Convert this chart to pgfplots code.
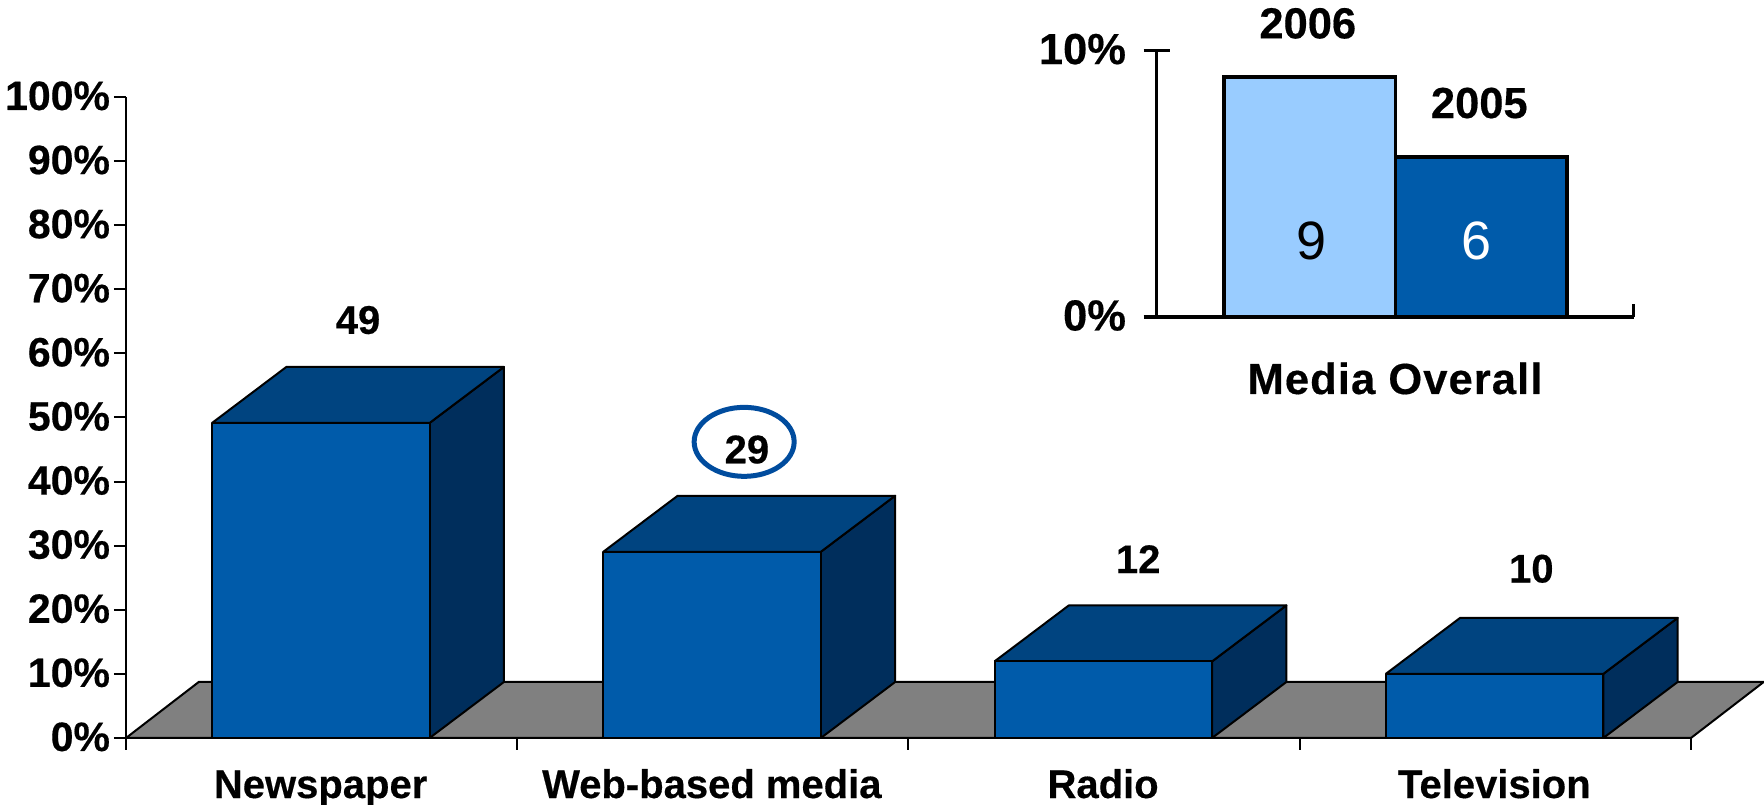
\documentclass[border=0pt]{standalone}
\usepackage{fontspec}
\setmainfont[BoldFeatures={FakeBold=0.4}]{Liberation Sans}
\usepackage{pgfplots}
\pgfplotsset{compat=1.18}
\definecolor{barfront}{HTML}{005BAA}
\definecolor{bartop}{HTML}{004480}
\definecolor{barside}{HTML}{002E5C}
\definecolor{barlight}{HTML}{99CCFF}
\definecolor{ringblue}{HTML}{004C9E}
\definecolor{floorgray}{HTML}{808080}
\newcommand{\lab}{\fontsize{40}{48}\selectfont\bfseries}
\newcommand{\labb}{\fontsize{41}{48}\selectfont\bfseries}
\newcommand{\labc}{\fontsize{43.5}{50}\selectfont\bfseries}
\pgfplotsset{
  front/.style={fill=barfront,draw=black,line width=2pt,line join=round,forget plot},
  topf/.style={fill=bartop,draw=black,line width=2pt,line join=round,forget plot},
  sidef/.style={fill=barside,draw=black,line width=2pt,line join=round,forget plot},
}
\begin{document}
\begin{tikzpicture}
\path[use as bounding box] (0pt,0pt) rectangle (1764pt,805pt);
% main chart
\begin{axis}[
    at={(126pt,67pt)}, anchor=south west,
    scale only axis,
    width=1565pt, height=641pt,
    xmin=0, xmax=4, ymin=0, ymax=100,
    clip=false,
    axis lines=left,
    axis line style={-,line width=2.5pt},
    tick align=outside,
    major tick length=12pt,
    tick style={black,line width=2pt},
    axis on top,
    xtick={0,1,2,3,4},
    x tick label as interval,
    xticklabels={Newspaper,Web-based media,Radio,Television},
    x tick label style={font=\lab,anchor=base,text height=29pt,xshift=-1pt},
    xticklabel shift=48pt,
    ytick={0,10,20,30,40,50,60,70,80,90,100},
    yticklabels={0\%,10\%,20\%,30\%,40\%,50\%,60\%,70\%,80\%,90\%,100\%},
    y tick label style={font=\labb,anchor=east,text height=29pt,text depth=0pt,yshift=1.5pt},
    yticklabel shift=0.5pt,
]
    % floor
    \addplot[fill=floorgray,draw=black,line width=2pt,forget plot]
        coordinates {(0,0) (0.186,8.74) (4.186,8.74) (4,0) (0,0)};

    % Newspaper
    \addplot[sidef] coordinates {(0.776,0) (0.966,8.74) (0.966,57.89) (0.776,49.15) (0.776,0)};
    \addplot[topf] coordinates {(0.22,49.15) (0.41,57.89) (0.966,57.89) (0.776,49.15) (0.22,49.15)};
    \addplot[front] coordinates {(0.22,0) (0.776,0) (0.776,49.15) (0.22,49.15) (0.22,0)};

    % Web-based media
    \addplot[sidef] coordinates {(1.776,0) (1.966,8.74) (1.966,37.79) (1.776,29.05) (1.776,0)};
    \addplot[topf] coordinates {(1.22,29.05) (1.41,37.79) (1.966,37.79) (1.776,29.05) (1.22,29.05)};
    \addplot[front] coordinates {(1.22,0) (1.776,0) (1.776,29.05) (1.22,29.05) (1.22,0)};

    % Radio
    \addplot[sidef] coordinates {(2.776,0) (2.966,8.74) (2.966,20.69) (2.776,11.95) (2.776,0)};
    \addplot[topf] coordinates {(2.22,11.95) (2.41,20.69) (2.966,20.69) (2.776,11.95) (2.22,11.95)};
    \addplot[front] coordinates {(2.22,0) (2.776,0) (2.776,11.95) (2.22,11.95) (2.22,0)};

    % Television
    \addplot[sidef] coordinates {(3.776,0) (3.966,8.74) (3.966,18.74) (3.776,10) (3.776,0)};
    \addplot[topf] coordinates {(3.22,10) (3.41,18.74) (3.966,18.74) (3.776,10) (3.22,10)};
    \addplot[front] coordinates {(3.22,0) (3.776,0) (3.776,10) (3.22,10) (3.22,0)};

    % value labels
    \node[font=\lab] at (axis cs:0.593,65.2) {49};
    \node[font=\lab] at (axis cs:1.587,45.0) {29};
    \node[font=\lab] at (axis cs:2.587,27.9) {12};
    \node[font=\lab] at (axis cs:3.592,26.4) {10};
    \draw[ringblue,line width=5pt] (axis cs:1.58,46.2) ellipse [x radius=50pt,y radius=34.5pt];
\end{axis}
% inset
\begin{axis}[
    at={(1156.5pt,488pt)}, anchor=south west,
    scale only axis,
    width=477pt, height=266.4pt,
    xmin=-0.892, xmax=1.889, ymin=0, ymax=10,
    clip=false,
    axis lines=left,
    axis line style={-,line width=3.5pt},
    axis on top,
    xtick=\empty,
    ytick={0,10},
    yticklabels={0\%,10\%},
    y tick style={black,line width=3.5pt},
    tick align=center,
    major tick length=26pt,
    y tick label style={font=\labc,anchor=east,text height=31pt,text depth=0pt,yshift=2pt},
    yticklabel shift=14pt,
    xlabel={\addfontfeature{LetterSpace=2.5}Media Overall},
    xlabel style={font=\labc,anchor=base,at={(axis description cs:0.5,0)},yshift=-77pt},
]
    \addplot[ybar,bar width=171.5pt,bar shift=0pt,fill=barlight,draw=black,line width=3.5pt]
        coordinates {(0,9)};
    \addplot[ybar,bar width=171.5pt,bar shift=0pt,fill=barfront,draw=black,line width=3.5pt]
        coordinates {(1,6)};
    % end tick of the x axis, it only points up
    \addplot[black,line width=3.5pt,forget plot] coordinates {(1.889,0) (1.889,0.5)};
    \node[font=\labc] at (axis cs:-0.01,11.02) {2006};
    \node[font=\labc] at (axis cs:0.99,8.03) {2005};
    \node[font=\fontsize{54}{60}\selectfont,black] at (axis cs:0.012,2.85) {9};
    \node[font=\fontsize{54}{60}\selectfont,white] at (axis cs:0.975,2.85) {6};
\end{axis}
\end{tikzpicture}
\end{document}
